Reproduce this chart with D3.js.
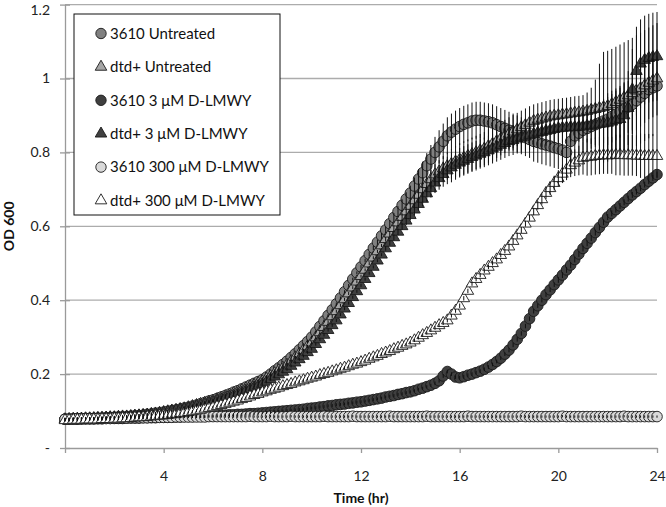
<!DOCTYPE html>
<html><head><meta charset="utf-8">
<script src="https://cdn.jsdelivr.net/npm/d3@7"></script>
<style>
body{margin:0;background:#fff}
svg{display:block}
text{font-family:Lato,"Open Sans",sans-serif}
</style>
</head><body>
<svg id="chart" width="666" height="507"></svg>
<script>
// ---- data ----
const timeMinutes = [0,10,20,30,40,50,60,70,80,90,100,110,120,130,140,150,160,170,180,190,200,210,220,230,240,250,260,270,280,290,300,310,320,330,340,350,360,370,380,390,400,410,420,430,440,450,460,470,480,490,500,510,520,530,540,550,560,570,580,590,600,610,620,630,640,650,660,670,680,690,700,710,720,730,740,750,760,770,780,790,800,810,820,830,840,850,860,870,880,890,900,910,920,930,940,950,960,970,980,990,1000,1010,1020,1030,1040,1050,1060,1070,1080,1090,1100,1110,1120,1130,1140,1150,1160,1170,1180,1190,1200,1210,1220,1230,1240,1250,1260,1270,1280,1290,1300,1310,1320,1330,1340,1350,1360,1370,1380,1390,1400,1410,1420,1430,1440];

const seriesNames = ["3610 Untreated","dtd+ Untreated","3610 3 \u03BCM D-LMWY","dtd+ 3 \u03BCM D-LMWY","3610 300 \u03BCM D-LMWY","dtd+ 300 \u03BCM D-LMWY"];

const od3610Untreated = [
0.078,0.078,0.079,0.079,0.079,0.080,
0.080,0.080,0.081,0.081,0.082,0.082,
0.083,0.084,0.084,0.085,0.086,0.087,
0.088,0.089,0.091,0.092,0.094,0.095,
0.097,0.099,0.101,0.103,0.105,0.108,
0.110,0.113,0.116,0.120,0.123,0.127,
0.130,0.134,0.138,0.142,0.146,0.151,
0.155,0.160,0.165,0.170,0.175,0.180,
0.185,0.192,0.200,0.209,0.217,0.226,
0.235,0.245,0.255,0.266,0.277,0.288,
0.300,0.314,0.329,0.344,0.359,0.374,
0.390,0.406,0.423,0.440,0.457,0.474,
0.490,0.507,0.524,0.541,0.557,0.574,
0.590,0.607,0.624,0.640,0.657,0.674,
0.690,0.709,0.728,0.745,0.764,0.782,
0.800,0.815,0.830,0.845,0.855,0.863,
0.870,0.876,0.880,0.885,0.887,0.887,
0.885,0.883,0.880,0.875,0.870,0.865,
0.860,0.855,0.850,0.845,0.840,0.835,
0.830,0.827,0.823,0.820,0.817,0.813,
0.810,0.806,0.800,0.830,0.845,0.852,
0.860,0.865,0.870,0.875,0.880,0.885,
0.890,0.897,0.903,0.910,0.917,0.923,
0.930,0.940,0.950,0.960,0.970,0.975,
0.980];

const odDtdUntreated = [
0.077,0.078,0.078,0.079,0.079,0.080,
0.080,0.080,0.081,0.081,0.082,0.083,
0.083,0.084,0.085,0.085,0.086,0.087,
0.088,0.089,0.090,0.092,0.093,0.095,
0.097,0.099,0.101,0.103,0.105,0.107,
0.110,0.113,0.116,0.119,0.122,0.125,
0.128,0.132,0.136,0.140,0.144,0.148,
0.152,0.156,0.161,0.166,0.170,0.175,
0.180,0.187,0.194,0.202,0.210,0.217,
0.225,0.235,0.245,0.255,0.265,0.275,
0.285,0.299,0.313,0.327,0.341,0.356,
0.370,0.386,0.402,0.418,0.434,0.450,
0.465,0.482,0.499,0.515,0.532,0.548,
0.565,0.580,0.595,0.610,0.625,0.640,
0.655,0.670,0.685,0.700,0.714,0.727,
0.740,0.748,0.756,0.763,0.769,0.775,
0.780,0.785,0.790,0.795,0.800,0.805,
0.810,0.817,0.823,0.830,0.837,0.843,
0.850,0.856,0.862,0.868,0.874,0.880,
0.885,0.888,0.891,0.894,0.897,0.899,
0.900,0.902,0.903,0.905,0.907,0.908,
0.910,0.912,0.915,0.917,0.920,0.922,
0.925,0.930,0.936,0.942,0.948,0.954,
0.960,0.967,0.974,0.981,0.988,0.994,
1.000];

const od3610Low = [
0.078,0.078,0.078,0.078,0.079,0.079,
0.079,0.079,0.079,0.079,0.080,0.080,
0.080,0.080,0.080,0.081,0.081,0.081,
0.081,0.082,0.082,0.082,0.082,0.083,
0.083,0.083,0.084,0.084,0.084,0.085,
0.085,0.085,0.086,0.086,0.086,0.087,
0.087,0.088,0.088,0.089,0.090,0.090,
0.091,0.091,0.092,0.093,0.093,0.094,
0.095,0.096,0.097,0.098,0.099,0.100,
0.101,0.102,0.103,0.104,0.105,0.107,
0.108,0.109,0.111,0.112,0.114,0.115,
0.117,0.118,0.119,0.121,0.122,0.124,
0.125,0.127,0.129,0.131,0.133,0.135,
0.138,0.140,0.142,0.145,0.147,0.150,
0.152,0.155,0.159,0.162,0.166,0.170,
0.175,0.182,0.195,0.207,0.200,0.192,
0.190,0.193,0.197,0.200,0.204,0.208,
0.213,0.219,0.226,0.234,0.243,0.254,
0.265,0.279,0.294,0.310,0.330,0.350,
0.370,0.385,0.400,0.415,0.428,0.442,
0.455,0.468,0.482,0.495,0.510,0.525,
0.540,0.554,0.568,0.583,0.597,0.611,
0.625,0.635,0.645,0.655,0.665,0.675,
0.685,0.694,0.703,0.713,0.722,0.731,
0.740];

const odDtdLow = [
0.077,0.077,0.078,0.078,0.079,0.079,
0.079,0.080,0.080,0.081,0.081,0.082,
0.082,0.083,0.083,0.084,0.085,0.086,
0.087,0.088,0.089,0.090,0.092,0.093,
0.095,0.097,0.099,0.101,0.103,0.105,
0.107,0.110,0.113,0.115,0.118,0.121,
0.124,0.128,0.131,0.135,0.139,0.142,
0.146,0.150,0.155,0.159,0.164,0.168,
0.173,0.179,0.186,0.193,0.199,0.206,
0.213,0.222,0.231,0.240,0.249,0.259,
0.268,0.281,0.294,0.306,0.319,0.332,
0.345,0.361,0.377,0.392,0.408,0.424,
0.440,0.457,0.473,0.490,0.507,0.523,
0.540,0.555,0.570,0.585,0.600,0.615,
0.630,0.645,0.660,0.674,0.689,0.703,
0.718,0.730,0.741,0.751,0.759,0.766,
0.772,0.777,0.782,0.787,0.791,0.796,
0.800,0.805,0.810,0.815,0.820,0.825,
0.830,0.833,0.837,0.840,0.843,0.847,
0.850,0.853,0.855,0.858,0.860,0.863,
0.865,0.866,0.867,0.868,0.868,0.869,
0.870,0.872,0.873,0.875,0.877,0.878,
0.880,0.883,0.887,0.890,0.900,0.920,
0.970,1.020,1.040,1.050,1.055,1.058,
1.060];

const od3610High = [
0.078,0.078,0.078,0.079,0.079,0.079,
0.079,0.079,0.080,0.080,0.080,0.080,
0.081,0.081,0.081,0.081,0.082,0.082,
0.082,0.082,0.082,0.083,0.083,0.083,
0.083,0.083,0.083,0.084,0.084,0.084,
0.084,0.084,0.084,0.084,0.084,0.085,
0.085,0.085,0.085,0.085,0.085,0.085,
0.085,0.085,0.085,0.086,0.085,0.085,
0.085,0.085,0.086,0.085,0.085,0.085,
0.085,0.086,0.085,0.085,0.085,0.085,
0.085,0.085,0.085,0.086,0.085,0.085,
0.085,0.085,0.085,0.085,0.086,0.085,
0.085,0.085,0.085,0.085,0.085,0.085,
0.085,0.086,0.085,0.085,0.085,0.085,
0.085,0.085,0.085,0.085,0.086,0.085,
0.085,0.085,0.085,0.085,0.085,0.085,
0.085,0.085,0.086,0.085,0.085,0.085,
0.085,0.085,0.085,0.085,0.085,0.085,
0.085,0.085,0.085,0.086,0.085,0.085,
0.085,0.085,0.085,0.085,0.085,0.085,
0.085,0.086,0.085,0.085,0.085,0.085,
0.085,0.085,0.085,0.085,0.085,0.085,
0.085,0.085,0.085,0.085,0.086,0.085,
0.085,0.085,0.085,0.085,0.085,0.085,
0.085];

const odDtdHigh = [
0.075,0.075,0.076,0.076,0.076,0.077,
0.077,0.077,0.077,0.078,0.078,0.078,
0.079,0.079,0.080,0.080,0.081,0.082,
0.083,0.083,0.084,0.085,0.086,0.087,
0.088,0.089,0.091,0.092,0.094,0.095,
0.097,0.099,0.101,0.103,0.106,0.108,
0.110,0.113,0.116,0.119,0.122,0.125,
0.128,0.132,0.135,0.139,0.143,0.146,
0.150,0.153,0.157,0.160,0.163,0.167,
0.170,0.173,0.177,0.180,0.183,0.187,
0.190,0.193,0.197,0.200,0.203,0.207,
0.210,0.214,0.217,0.221,0.225,0.228,
0.232,0.236,0.241,0.245,0.249,0.254,
0.258,0.262,0.267,0.271,0.276,0.280,
0.285,0.291,0.298,0.305,0.311,0.318,
0.325,0.332,0.338,0.345,0.358,0.371,
0.385,0.405,0.425,0.445,0.457,0.468,
0.480,0.490,0.500,0.510,0.522,0.533,
0.545,0.560,0.575,0.590,0.607,0.623,
0.640,0.657,0.673,0.690,0.703,0.717,
0.730,0.742,0.753,0.765,0.772,0.778,
0.785,0.787,0.788,0.790,0.791,0.792,
0.792,0.792,0.793,0.793,0.792,0.792,
0.792,0.791,0.791,0.790,0.790,0.790,
0.790];

// standard deviations (error bars)
const err3610Untreated = [
0.004,0.004,0.004,0.004,0.004,0.004,
0.004,0.004,0.004,0.004,0.004,0.004,
0.004,0.004,0.004,0.004,0.004,0.004,
0.004,0.004,0.004,0.004,0.004,0.004,
0.004,0.004,0.004,0.004,0.004,0.004,
0.004,0.004,0.004,0.004,0.004,0.004,
0.004,0.004,0.004,0.004,0.004,0.004,
0.004,0.004,0.004,0.004,0.004,0.004,
0.004,0.004,0.004,0.004,0.004,0.004,
0.004,0.004,0.004,0.004,0.004,0.004,
0.004,0.004,0.004,0.004,0.004,0.004,
0.004,0.004,0.004,0.004,0.004,0.004,
0.005,0.005,0.006,0.006,0.007,0.008,
0.009,0.010,0.012,0.014,0.016,0.018,
0.020,0.023,0.026,0.030,0.034,0.038,
0.042,0.045,0.048,0.050,0.050,0.050,
0.050,0.050,0.050,0.050,0.050,0.050,
0.050,0.050,0.050,0.050,0.050,0.050,
0.050,0.050,0.050,0.050,0.050,0.050,
0.055,0.055,0.055,0.055,0.055,0.055,
0.055,0.055,0.060,0.060,0.060,0.060,
0.060,0.060,0.060,0.060,0.060,0.060,
0.070,0.070,0.070,0.070,0.070,0.070,
0.080,0.080,0.080,0.080,0.080,0.080,
0.080];

const errDtdUntreated = [
0.004,0.004,0.004,0.004,0.004,0.004,
0.004,0.004,0.004,0.004,0.004,0.004,
0.004,0.004,0.004,0.004,0.004,0.004,
0.004,0.004,0.004,0.004,0.004,0.004,
0.004,0.004,0.004,0.004,0.004,0.004,
0.004,0.004,0.004,0.004,0.004,0.004,
0.004,0.004,0.004,0.004,0.004,0.004,
0.004,0.004,0.004,0.004,0.004,0.004,
0.004,0.004,0.004,0.004,0.004,0.004,
0.004,0.004,0.004,0.004,0.004,0.004,
0.004,0.004,0.004,0.004,0.004,0.004,
0.004,0.004,0.004,0.004,0.004,0.004,
0.004,0.004,0.004,0.004,0.004,0.004,
0.006,0.007,0.008,0.009,0.010,0.012,
0.014,0.016,0.018,0.020,0.022,0.025,
0.028,0.031,0.034,0.037,0.040,0.042,
0.045,0.045,0.045,0.045,0.045,0.045,
0.045,0.045,0.045,0.045,0.045,0.045,
0.045,0.045,0.045,0.045,0.045,0.045,
0.045,0.045,0.045,0.045,0.045,0.045,
0.045,0.045,0.045,0.045,0.045,0.045,
0.045,0.050,0.060,0.080,0.120,0.150,
0.150,0.150,0.150,0.150,0.150,0.150,
0.150,0.150,0.150,0.150,0.150,0.150,
0.150];

const err3610Low = [
0.004,0.004,0.004,0.004,0.004,0.004,
0.004,0.004,0.004,0.004,0.004,0.004,
0.004,0.004,0.004,0.004,0.004,0.004,
0.004,0.004,0.004,0.004,0.004,0.004,
0.004,0.004,0.004,0.004,0.004,0.004,
0.004,0.004,0.004,0.004,0.004,0.004,
0.004,0.004,0.004,0.004,0.004,0.004,
0.004,0.004,0.004,0.004,0.004,0.004,
0.004,0.004,0.004,0.004,0.004,0.004,
0.004,0.004,0.004,0.004,0.004,0.004,
0.004,0.004,0.004,0.004,0.004,0.004,
0.004,0.004,0.004,0.004,0.004,0.004,
0.004,0.004,0.004,0.004,0.004,0.004,
0.004,0.004,0.004,0.004,0.004,0.004,
0.004,0.004,0.004,0.004,0.004,0.004,
0.005,0.005,0.005,0.005,0.005,0.005,
0.005,0.005,0.005,0.005,0.005,0.005,
0.005,0.005,0.005,0.005,0.005,0.005,
0.006,0.006,0.006,0.006,0.006,0.006,
0.006,0.006,0.006,0.006,0.006,0.006,
0.008,0.008,0.008,0.008,0.008,0.008,
0.008,0.008,0.008,0.008,0.008,0.008,
0.008,0.008,0.008,0.008,0.008,0.008,
0.008,0.008,0.008,0.008,0.008,0.008,
0.008];

const errDtdLow = [
0.004,0.004,0.004,0.004,0.004,0.004,
0.004,0.004,0.004,0.004,0.004,0.004,
0.004,0.004,0.004,0.004,0.004,0.004,
0.004,0.004,0.004,0.004,0.004,0.004,
0.004,0.004,0.004,0.004,0.004,0.004,
0.004,0.004,0.004,0.004,0.004,0.004,
0.004,0.004,0.004,0.004,0.004,0.004,
0.004,0.004,0.004,0.004,0.004,0.004,
0.004,0.004,0.004,0.004,0.004,0.004,
0.004,0.004,0.004,0.004,0.004,0.004,
0.004,0.004,0.004,0.004,0.004,0.004,
0.004,0.004,0.004,0.004,0.004,0.004,
0.004,0.004,0.004,0.004,0.004,0.004,
0.006,0.007,0.008,0.009,0.010,0.012,
0.014,0.016,0.018,0.020,0.022,0.025,
0.028,0.031,0.034,0.037,0.040,0.040,
0.040,0.040,0.040,0.040,0.040,0.040,
0.040,0.040,0.040,0.040,0.040,0.040,
0.040,0.040,0.040,0.040,0.040,0.040,
0.040,0.040,0.040,0.040,0.040,0.040,
0.040,0.040,0.040,0.040,0.040,0.040,
0.040,0.045,0.050,0.055,0.060,0.065,
0.070,0.075,0.080,0.085,0.090,0.100,
0.110,0.120,0.120,0.120,0.120,0.120,
0.120];

const err3610High = [
0.003,0.003,0.003,0.003,0.003,0.003,
0.003,0.003,0.003,0.003,0.003,0.003,
0.003,0.003,0.003,0.003,0.003,0.003,
0.003,0.003,0.003,0.003,0.003,0.003,
0.003,0.003,0.003,0.003,0.003,0.003,
0.003,0.003,0.003,0.003,0.003,0.003,
0.003,0.003,0.003,0.003,0.003,0.003,
0.003,0.003,0.003,0.003,0.003,0.003,
0.003,0.003,0.003,0.003,0.003,0.003,
0.003,0.003,0.003,0.003,0.003,0.003,
0.003,0.003,0.003,0.003,0.003,0.003,
0.003,0.003,0.003,0.003,0.003,0.003,
0.003,0.003,0.003,0.003,0.003,0.003,
0.003,0.003,0.003,0.003,0.003,0.003,
0.003,0.003,0.003,0.003,0.003,0.003,
0.003,0.003,0.003,0.003,0.003,0.003,
0.003,0.003,0.003,0.003,0.003,0.003,
0.003,0.003,0.003,0.003,0.003,0.003,
0.003,0.003,0.003,0.003,0.003,0.003,
0.003,0.003,0.003,0.003,0.003,0.003,
0.003,0.003,0.003,0.003,0.003,0.003,
0.003,0.003,0.003,0.003,0.003,0.003,
0.003,0.003,0.003,0.003,0.003,0.003,
0.003,0.003,0.003,0.003,0.003,0.003,
0.003];

const errDtdHigh = [
0.004,0.004,0.004,0.004,0.004,0.004,
0.004,0.004,0.004,0.004,0.004,0.004,
0.004,0.004,0.004,0.004,0.004,0.004,
0.004,0.004,0.004,0.004,0.004,0.004,
0.004,0.004,0.004,0.004,0.004,0.004,
0.004,0.004,0.004,0.004,0.004,0.004,
0.004,0.004,0.004,0.004,0.004,0.004,
0.004,0.004,0.004,0.004,0.004,0.004,
0.004,0.004,0.004,0.004,0.004,0.004,
0.004,0.004,0.004,0.004,0.004,0.004,
0.004,0.004,0.004,0.004,0.004,0.004,
0.004,0.004,0.004,0.004,0.004,0.004,
0.004,0.004,0.004,0.004,0.004,0.004,
0.004,0.004,0.004,0.004,0.004,0.004,
0.004,0.004,0.004,0.004,0.004,0.004,
0.005,0.005,0.005,0.005,0.005,0.005,
0.006,0.006,0.006,0.006,0.006,0.006,
0.006,0.006,0.006,0.006,0.006,0.006,
0.008,0.008,0.008,0.008,0.008,0.008,
0.010,0.012,0.014,0.016,0.018,0.020,
0.022,0.025,0.028,0.032,0.036,0.040,
0.045,0.050,0.050,0.050,0.050,0.050,
0.050,0.050,0.055,0.055,0.055,0.055,
0.055,0.055,0.060,0.060,0.060,0.060,
0.060];

const yTickValues = [0,0.2,0.4,0.6,0.8,1.0,1.2];
const yTickLabels = ["-","0.2","0.4","0.6","0.8","1","1.2"];
const xTickValues = [0,4,8,12,16,20,24];
const xTickLabels = ["","4","8","12","16","20","24"];

// ---- styling (not data) ----
const seriesStyle = [
  {shape:"circle",   fill:"#808080"},
  {shape:"triangle", fill:"#a6a6a6"},
  {shape:"circle",   fill:"#3f3f3f"},
  {shape:"triangle", fill:"#404040"},
  {shape:"circle",   fill:"#d9d9d9"},
  {shape:"triangle", fill:"#ffffff"}
];
const seriesValues = [od3610Untreated, odDtdUntreated, od3610Low, odDtdLow, od3610High, odDtdHigh];
const seriesErrors = [err3610Untreated, errDtdUntreated, err3610Low, errDtdLow, err3610High, errDtdHigh];

const svg = d3.select("#chart");
svg.append("rect").attr("width",666).attr("height",507).attr("fill","#fff");

const x = d3.scaleLinear().domain([0,24]).range([65,657]);
const y = d3.scaleLinear().domain([0,1.2]).range([448,4.6]);

// gridlines
svg.append("g").selectAll("line").data(yTickValues.filter(v=>v>0)).join("line")
  .attr("x1",x(0)).attr("x2",x(24))
  .attr("y1",d=>y(d)).attr("y2",d=>y(d))
  .attr("stroke","#acacac").attr("stroke-width",1.3);

// y axis
const yAxis = d3.axisLeft(y).tickValues(yTickValues)
  .tickFormat((d,i)=>yTickLabels[i]).tickSizeInner(5).tickSizeOuter(0).tickPadding(10);
const gy = svg.append("g").attr("transform",`translate(${x(0)},0)`).call(yAxis);
gy.select(".domain").attr("stroke","#9a9a9a").attr("stroke-width",1.3);
gy.selectAll(".tick line").attr("stroke","#9a9a9a").attr("x1",5).attr("x2",-5).attr("stroke-width",1.3);
gy.selectAll(".tick text").attr("font-size",14).attr("fill","#222").attr("font-family","Lato,'Open Sans',sans-serif")
  .attr("dy",(d)=> d >= 1.2 ? "0.7em" : "0.32em");

// x axis
const xAxis = d3.axisBottom(x).tickValues(xTickValues)
  .tickFormat((d,i)=>xTickLabels[i]).tickSizeInner(5).tickSizeOuter(0).tickPadding(18);
const gx = svg.append("g").attr("transform",`translate(0,${y(0)})`).call(xAxis);
gx.select(".domain").attr("stroke","#9a9a9a").attr("stroke-width",1.3);
gx.selectAll(".tick line").attr("stroke","#9a9a9a").attr("stroke-width",1.3);
gx.selectAll(".tick text").attr("font-size",14).attr("fill","#222").attr("font-family","Lato,'Open Sans',sans-serif");

// axis titles
svg.append("text").attr("x",x(12)).attr("y",503).attr("text-anchor","middle")
  .attr("font-size",14).attr("font-weight","bold").attr("fill","#111").text("Time (hr)");
svg.append("text").attr("transform",`translate(14,${(y(0)+y(1.2))/2}) rotate(-90)`)
  .attr("text-anchor","middle").attr("font-size",14).attr("font-weight","bold").attr("fill","#111").text("OD 600");

// markers
const triPath = d3.symbol(d3.symbolTriangle, 58)();
const plot = svg.append("g");
seriesValues.forEach((vals, s) => {
  const st = seriesStyle[s];
  const pts = vals.map((v,i)=>({t: timeMinutes[i]/60, v}));
  const g = plot.append("g");
  if (st.shape === "circle") {
    g.selectAll("circle").data(pts).join("circle")
      .attr("cx",d=>x(d.t)).attr("cy",d=>y(d.v)).attr("r",5.3)
      .attr("fill",st.fill).attr("stroke","#1a1a1a").attr("stroke-width",0.9);
  } else {
    g.selectAll("path").data(pts).join("path")
      .attr("d",triPath).attr("transform",d=>`translate(${x(d.t)},${y(d.v)})`)
      .attr("fill",st.fill).attr("stroke","#1a1a1a").attr("stroke-width",0.9);
  }
});

// error bars
const bars = svg.append("g");
seriesValues.forEach((vals, s) => {
  const errs = seriesErrors[s];
  const pts = vals.map((v,i)=>({t: timeMinutes[i]/60, v, e: errs[i]}));
  bars.append("g").selectAll("line").data(pts).join("line")
    .attr("x1",d=>x(d.t)).attr("x2",d=>x(d.t))
    .attr("y1",d=>y(d.v+d.e)).attr("y2",d=>y(d.v-d.e))
    .attr("stroke","#111").attr("stroke-width",1);
});

// legend
const lg = svg.append("g");
lg.append("rect").attr("x",74).attr("y",14).attr("width",206).attr("height",201)
  .attr("fill","#fff").attr("stroke","#111").attr("stroke-width",1);
const legendY = d3.scaleLinear().domain([0,5]).range([33.5,200.5]);
seriesNames.forEach((name, s) => {
  const st = seriesStyle[s];
  const cy = legendY(s);
  if (st.shape === "circle") {
    lg.append("circle").attr("cx",101).attr("cy",cy).attr("r",5.2)
      .attr("fill",st.fill).attr("stroke","#1a1a1a").attr("stroke-width",0.9);
  } else {
    lg.append("path").attr("d",triPath).attr("transform",`translate(101,${cy})`)
      .attr("fill",st.fill).attr("stroke","#1a1a1a").attr("stroke-width",0.9);
  }
  lg.append("text").attr("x",110).attr("y",cy).attr("dy","0.35em")
    .attr("font-size",15).attr("fill","#111").text(name);
});
</script>
</body></html>
